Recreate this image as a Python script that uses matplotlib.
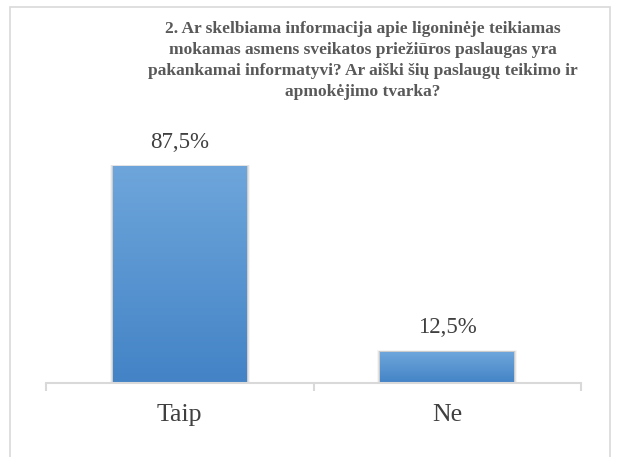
import numpy as np
import matplotlib
matplotlib.use('Agg')
import matplotlib.pyplot as plt
from matplotlib.patches import Rectangle
from matplotlib.colors import LinearSegmentedColormap

# Data
categories = ['Taip', 'Ne']
values = [87.5, 12.5]
labels = ['87,5%', '12,5%']
title = ('2. Ar skelbiama informacija apie ligoninėje teikiamas\n'
         'mokamas asmens sveikatos priežiūros paslaugas yra\n'
         'pakankamai informatyvi? Ar aiški šių paslaugų teikimo ir\n'
         'apmokėjimo tvarka?')

plt.rcParams['font.family'] = ['Liberation Serif', 'DejaVu Serif']

fig = plt.figure(figsize=(6.17, 4.57), dpi=100)
fig.patch.set_facecolor('white')

# outer chart frame
fig.patches.append(Rectangle((10 / 617, -0.01), 600 / 617, 1 - 7 / 457 + 0.01,
                             transform=fig.transFigure, fill=False,
                             edgecolor='#d9d9d9', linewidth=1.2))

ax = fig.add_axes([46 / 617, 74 / 457, 535 / 617, 247 / 457])

cmap = LinearSegmentedColormap.from_list('blu', ['#4383c6', '#6ea6db'])
grad = np.linspace(0, 1, 256).reshape(-1, 1)
width = 0.5
x = np.arange(len(categories))

for xi, v, lab in zip(x, values, labels):
    # soft shadow
    for k, a in enumerate([0.10, 0.07, 0.04]):
        ax.add_patch(Rectangle((xi - width / 2 - 0.004 * (k + 1), 0), width + 0.008 * (k + 1),
                               v + 0.3 * (k + 1), facecolor='black', alpha=a,
                               edgecolor='none', zorder=1))
    ax.imshow(grad, cmap=cmap, aspect='auto', origin='lower',
              extent=(xi - width / 2, xi + width / 2, 0, v), zorder=2)
    ax.text(xi, v + 10, lab, ha='center', va='center', fontsize=16.5, color='#404040')

ax.set_xlim(-0.5, 1.5)
ax.set_ylim(0, 100)

for s in ['top', 'right', 'left']:
    ax.spines[s].set_visible(False)
ax.spines['bottom'].set_color('#d9d9d9')
ax.spines['bottom'].set_linewidth(1.5)
ax.set_yticks([])
ax.set_xticks([-0.5, 0.5, 1.5])
ax.set_xticklabels([])
ax.set_xticks(x, minor=True)
ax.set_xticklabels(categories, minor=True, fontsize=18.5, color='#404040')
ax.tick_params(axis='x', which='major', length=6, width=1.5, color='#d9d9d9')
ax.tick_params(axis='x', which='minor', length=0, pad=15)

fig.text(363 / 617, 1 - 21 / 457, title, ha='center', va='top', fontsize=12.5,
         fontweight='bold', color='#595959', linespacing=1.42)

fig.savefig('out.png', dpi=100)
